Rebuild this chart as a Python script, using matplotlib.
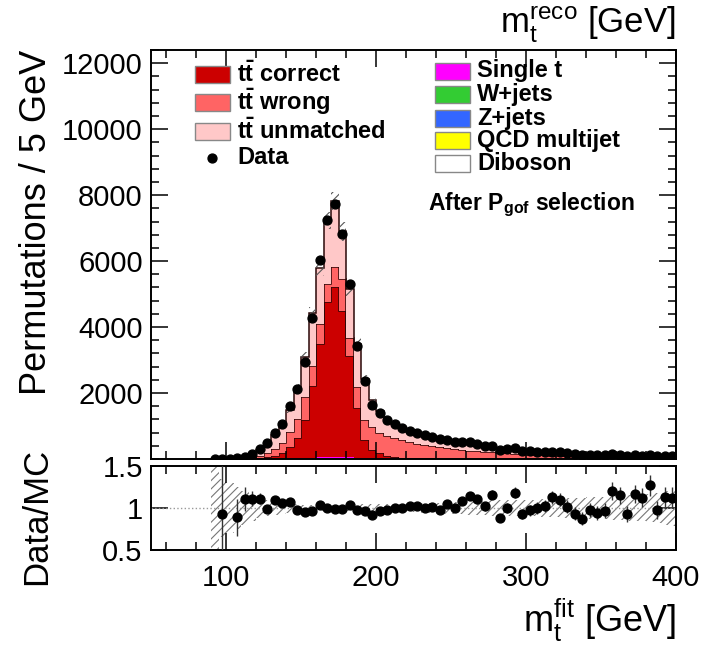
import numpy as np
import matplotlib
matplotlib.use("Agg")
import matplotlib.pyplot as plt
from matplotlib.patches import Rectangle
from matplotlib.lines import Line2D
from matplotlib.ticker import MultipleLocator

plt.rcParams['font.family'] = ['Liberation Sans', 'DejaVu Sans']
plt.rcParams['mathtext.fontset'] = 'custom'
plt.rcParams['mathtext.rm'] = 'Liberation Sans'
plt.rcParams['mathtext.bf'] = 'Liberation Sans:bold'
plt.rcParams['mathtext.it'] = 'Liberation Sans:italic'
plt.rcParams['hatch.linewidth'] = 0.8

# 5 GeV bins from 90 to 400 GeV
bin_edges = np.arange(90, 405, 5)
centers = 0.5 * (bin_edges[1:] + bin_edges[:-1])

data = [1, 2, 0, 16, 60, 150, 300, 500, 800, 1060,
        1600, 2110, 2950, 4260, 6020, 7240, 7740, 6830, 5310, 3430,
        2360, 1650, 1400, 1190, 1060, 950, 850, 780, 730, 670,
        600, 588, 515, 513, 502, 446, 383, 400, 282, 297,
        326, 238, 231, 222, 211, 218, 198, 171, 146, 128,
        135, 121, 117, 137, 123, 94, 111, 101, 108, 78,
        86, 81]

tt_correct = [0, 0, 0, 1, 3, 8, 20, 45, 80, 170,
              350, 600, 1150, 2160, 3450, 4690, 5140, 4430, 3070, 1500,
              545, 242, 150, 70, 40, 25, 15, 10, 8, 6,
              5, 4, 4, 3, 3, 3, 2, 2, 2, 2,
              2, 1, 1, 1, 1, 1, 1, 1, 1, 1,
              1, 1, 1, 1, 1, 1, 0, 0, 0, 0,
              0, 0]

tt_wrong = [0, 1, 1, 6, 18, 40, 65, 125, 220, 310,
            450, 600, 690, 630, 580, 550, 610, 960, 560, 660,
            605, 708, 610, 610, 570, 525, 485, 445, 407, 374,
            345, 316, 291, 267, 245, 225, 208, 191, 176, 162,
            149, 138, 127, 117, 108, 100, 92, 85, 79, 73,
            68, 63, 59, 55, 51, 48, 46, 43, 40, 38,
            36, 34]

tt_unmatched = [0, 1.15, 1, 11, 32, 85, 181, 329, 426, 509,
                678, 930, 1233, 1607, 1707, 1941, 2007, 1452, 1477, 1302,
                1252, 817, 660, 514, 432, 383, 317, 296, 302, 271,
                252, 231, 211, 197, 185, 170, 159, 146, 136, 127,
                120, 112, 105, 99, 94, 89, 84, 79, 74, 70,
                66, 62, 58, 56, 53, 50, 47, 45, 43, 40,
                38, 36]

single_t = [0, 0, 0, 0, 1, 1, 2, 4, 6, 8,
            12, 17, 25, 33, 42, 50, 52, 48, 40, 30,
            24, 19, 16, 14, 12, 11, 10, 9, 8, 7,
            7, 6, 6, 5, 5, 5, 4, 4, 4, 4,
            3, 3, 3, 3, 3, 2, 2, 2, 2, 2,
            2, 2, 2, 1, 1, 1, 1, 1, 1, 1,
            1, 1]

w_jets = [0, 0, 0, 0, 0, 1, 2, 2, 2, 3,
          3, 4, 5, 6, 7, 7, 7, 7, 6, 6,
          5, 5, 5, 4, 4, 4, 4, 3, 3, 3,
          3, 3, 3, 3, 2, 2, 2, 2, 2, 2,
          2, 2, 2, 2, 1, 1, 1, 1, 1, 1,
          1, 1, 1, 1, 1, 1, 1, 1, 1, 1,
          1, 1]

z_jets = [0, 0, 0, 0, 0, 0, 0, 0, 0, 0,
          1, 1, 1, 1, 1, 1, 1, 1, 1, 1,
          1, 1, 1, 1, 1, 1, 1, 1, 1, 1,
          0, 0, 0, 0, 0, 0, 0, 0, 0, 0,
          0, 0, 0, 0, 0, 0, 0, 0, 0, 0,
          0, 0, 0, 0, 0, 0, 0, 0, 0, 0,
          0, 0]

qcd = [0, 0, 0, 0, 0, 0, 0, 0, 0, 0,
       1, 1, 1, 1, 1, 1, 1, 1, 1, 1,
       1, 1, 1, 1, 1, 1, 1, 1, 1, 1,
       0, 0, 0, 0, 0, 0, 0, 0, 0, 0,
       0, 0, 0, 0, 0, 0, 0, 0, 0, 0,
       0, 0, 0, 0, 0, 0, 0, 0, 0, 0,
       0, 0]

diboson = [0, 0, 0, 0, 0, 0, 0, 0, 0, 0,
           0, 0, 0.5, 0.5, 0.5, 0.5, 0.5, 0.5, 0.5, 0,
           0, 0, 0, 0, 0, 0, 0, 0, 0, 0,
           0, 0, 0, 0, 0, 0, 0, 0, 0, 0,
           0, 0, 0, 0, 0, 0, 0, 0, 0, 0,
           0, 0, 0, 0, 0, 0, 0, 0, 0, 0,
           0, 0]

# relative MC uncertainty per bin
mc_rel_unc = [1.0, 0.35, 0.3, 0.25, 0.2, 0.15, 0.12, 0.1, 0.08, 0.07,
              0.06, 0.05, 0.04, 0.04, 0.04, 0.035, 0.035, 0.04, 0.04, 0.045,
              0.05, 0.05, 0.05, 0.05, 0.05, 0.05, 0.05, 0.05, 0.06, 0.06,
              0.06, 0.07, 0.07, 0.07, 0.08, 0.08, 0.08, 0.09, 0.09, 0.09,
              0.1, 0.1, 0.1, 0.1, 0.11, 0.11, 0.11, 0.12, 0.12, 0.12,
              0.13, 0.13, 0.13, 0.14, 0.14, 0.15, 0.15, 0.16, 0.17, 0.18,
              0.2, 0.22]

# stack from bottom to top
layers = [
    (diboson, 'white', 'Diboson'),
    (qcd, '#ffff00', 'QCD multijet'),
    (z_jets, '#3366ff', 'Z+jets'),
    (w_jets, '#33cc33', 'W+jets'),
    (single_t, '#ff00ff', 'Single t'),
    (tt_correct, '#cc0000', r'$\mathbf{t\bar{t}}$ correct'),
    (tt_wrong, '#ff6464', r'$\mathbf{t\bar{t}}$ wrong'),
    (tt_unmatched, '#ffc8c8', r'$\mathbf{t\bar{t}}$ unmatched'),
]

W, H = 702, 647
fig = plt.figure(figsize=(W / 100, H / 100), dpi=100)
x0, x1 = 151 / W, 676 / W
ax = fig.add_axes([x0, 1 - 459 / H, x1 - x0, (459 - 50) / H])
rax = fig.add_axes([x0, 1 - 550 / H, x1 - x0, (550 - 466) / H], sharex=ax)

base = np.zeros(len(centers))
for vals, col, name in layers:
    top = base + np.asarray(vals, dtype=float)
    ax.stairs(top, bin_edges, baseline=base, fill=True, color=col, lw=0)
    if name.startswith('$'):
        ax.stairs(top, bin_edges, baseline=None, color='#2a0808', lw=1.1)
    base = top
total = base

# MC uncertainty band on the stack
rel = np.asarray(mc_rel_unc)
lo = np.append(total * (1 - rel), total[-1] * (1 - rel[-1]))
hi = np.append(total * (1 + rel), total[-1] * (1 + rel[-1]))
ax.fill_between(bin_edges, lo, hi, step='post', facecolor='none',
                edgecolor='#555555', hatch='////', linewidth=0)

data = np.asarray(data, dtype=float)
ax.errorbar(centers, data, yerr=np.sqrt(data), fmt='o', color='black',
            ms=6.4, elinewidth=1, capsize=0, zorder=5)

# ratio panel
with np.errstate(divide='ignore', invalid='ignore'):
    ratio = np.where(total > 0, data / total, np.nan)
    ratio_err = np.where(total > 0, np.sqrt(data) / total, np.nan)
rax.axhline(1, color='#999999', ls=':', lw=1)
rlo = np.append(1 - rel, 1 - rel[-1])
rhi = np.append(1 + rel, 1 + rel[-1])
rax.fill_between(bin_edges, rlo, rhi, step='post', facecolor='none',
                 edgecolor='#777777', hatch='////', linewidth=0)
rax.errorbar(centers, ratio, yerr=ratio_err, fmt='o', color='black',
             ms=6.4, elinewidth=1, ecolor='#333333', capsize=0, zorder=5)

ax.set_xlim(50, 400)
ax.set_ylim(0, 12400)
rax.set_ylim(0.5, 1.5)

for a in (ax, rax):
    a.tick_params(which='both', direction='in', top=True, right=True,
                  width=1.1, labelsize=21, pad=6)
    a.tick_params(which='major', length=12)
    a.tick_params(which='minor', length=6)
    a.xaxis.set_major_locator(MultipleLocator(100))
    a.xaxis.set_minor_locator(MultipleLocator(20))
    for s in a.spines.values():
        s.set_linewidth(1.4)
ax.tick_params(labelbottom=False)
ax.set_yticks(np.arange(2000, 12001, 2000))
ax.yaxis.set_minor_locator(MultipleLocator(400))
rax.set_yticks([0.5, 1, 1.5], labels=['0.5', '1', '1.5'])
rax.tick_params(axis='x', pad=10)

fig.text(37 / W, 1 - 222 / H, 'Permutations / 5 GeV', rotation=90,
         ha='center', va='center', fontsize=26)
fig.text(37 / W, 1 - 516 / H, 'Data/MC', rotation=90,
         ha='center', va='center', fontsize=25)
fig.text(676 / W, 1 - 25 / H, r'$\mathrm{m}_\mathrm{t}^\mathrm{reco}$ [GeV]',
         ha='right', va='center', fontsize=25)
fig.text(676 / W, 1 - 620 / H, r'$\mathrm{m}_\mathrm{t}^\mathrm{fit}$ [GeV]',
         ha='right', va='center', fontsize=26)


def fpos(x, y):
    return x / W, 1 - y / H


def legend_box(x, y, color, label):
    # y is the vertical centre of the box in pixels
    bx, by = fpos(x, y + 8.5)
    fig.add_artist(Rectangle((bx, by), 35 / W, 17 / H, transform=fig.transFigure,
                             facecolor=color, edgecolor='#888888', lw=1))
    tx, ty = fpos(x + 42, y)
    fig.text(tx, ty, label, ha='left', va='center', fontsize=17,
             fontweight='bold')


left_rows = [('#cc0000', r'$\mathbf{t\bar{t}}$ correct', 74),
             ('#ff6464', r'$\mathbf{t\bar{t}}$ wrong', 102),
             ('#ffc8c8', r'$\mathbf{t\bar{t}}$ unmatched', 131)]
for col, lab, y in left_rows:
    legend_box(195, y, col, lab)
mx, my = fpos(212, 158)
fig.add_artist(Line2D([mx], [my], marker='o', ms=6.4, color='black',
                      transform=fig.transFigure))
tx, ty = fpos(237, 158)
fig.text(tx, ty, 'Data', ha='left', va='center', fontsize=17, fontweight='bold')

right_rows = [('#ff00ff', 'Single t', 71), ('#33cc33', 'W+jets', 94),
              ('#3366ff', 'Z+jets', 118), ('#ffff00', 'QCD multijet', 140),
              ('white', 'Diboson', 163)]
for col, lab, y in right_rows:
    legend_box(435, y, col, lab)

tx, ty = fpos(428, 205)
fig.text(tx, ty, r'After $\mathbf{P}_\mathbf{gof}$ selection', ha='left',
         va='center', fontsize=16.5, fontweight='bold')

fig.savefig('out.png', dpi=100)
